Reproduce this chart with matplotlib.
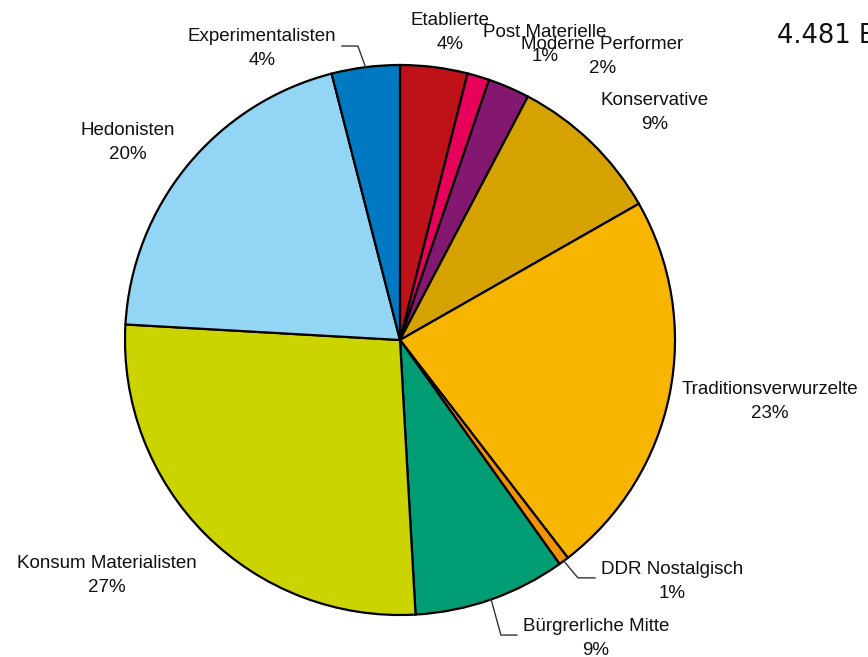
import numpy as np
import matplotlib
matplotlib.use("Agg")
import matplotlib.pyplot as plt

# Anteile der Milieus in Prozent (im Uhrzeigersinn ab 12 Uhr)
milieus = ["Etablierte", "Post Materielle", "Moderne Performer", "Konservative",
           "Traditionsverwurzelte", "DDR Nostalgisch", "Bürgrerliche Mitte",
           "Konsum Materialisten", "Hedonisten", "Experimentalisten"]
anteile = [3.95, 1.3, 2.45, 9.05, 22.8, 0.6, 8.95, 26.8, 20.1, 4.0]
farben = ["#BE1218", "#E6005A", "#84176F", "#D6A200", "#F8B500",
          "#F39200", "#009C73", "#CCD400", "#93D5F5", "#0079C2"]

# Textpositionen der Beschriftungen (Radius = 1)
label_pos = [(0.182, 1.118), (0.527, 1.075), (0.735, 1.031), (0.927, 0.827),
             (1.345, -0.224), (0.989, -0.878), (0.713, -1.085),
             (-1.065, -0.856), (-0.989, 0.718), (-0.502, 1.060)]
# Knickpunkte der Führungslinien: (Index, Knick, Ende)
leader = [(9, (-0.153, 1.069), (-0.211, 1.069)),
          (5, (0.647, -0.865), (0.709, -0.865)),
          (6, (0.367, -1.073), (0.425, -1.073))]

fig = plt.figure(figsize=(8.68, 6.57), dpi=100)
ax = fig.add_axes([0, 0, 1, 1])

ax.pie(anteile, colors=farben, startangle=90, counterclock=False,
       wedgeprops=dict(edgecolor="black", linewidth=1.6))

ax.set_aspect("auto")
ax.set_xlim(-400 / 275, 468 / 275)
ax.set_ylim(-317 / 275, 340 / 275)
ax.axis("off")

total = sum(anteile)
cum = np.cumsum([0] + anteile)
for i, (name, wert) in enumerate(zip(milieus, anteile)):
    x, y = label_pos[i]
    ax.text(x, y, f"{name}\n{round(wert / total * 100 + 1e-9):.0f}%",
            ha="center", va="center", fontsize=13.5, linespacing=1.5,
            family="Liberation Sans", color="#111111")

for i, knick, ende in leader:
    mitte = (cum[i] + cum[i + 1]) / 2 / total * 2 * np.pi
    start = (np.sin(mitte), np.cos(mitte))
    ax.plot([start[0], knick[0], ende[0]], [start[1], knick[1], ende[1]],
            color="#333333", linewidth=1)

fig.text(777 / 868, 1 - 43 / 657, "4.481 Befragte", fontsize=18.5,
         family="DejaVu Sans", color="#111111", ha="left", va="baseline")

fig.savefig("out.png", dpi=100)
